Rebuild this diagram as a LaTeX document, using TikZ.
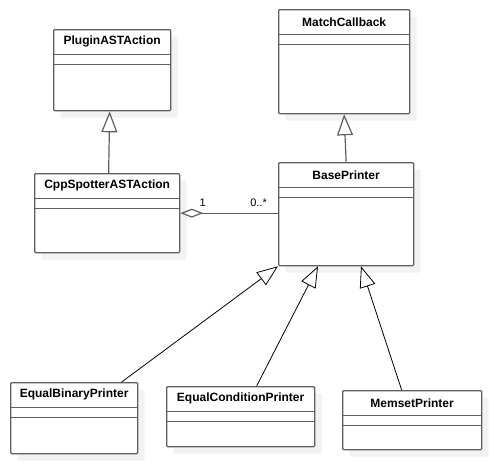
\documentclass[tikz,border=0pt]{standalone}
\usepackage{fontspec}
\setmainfont{Liberation Sans}
\usetikzlibrary{arrows.meta, calc, shadows}

\definecolor{classline}{RGB}{95,95,95}
\definecolor{classshadow}{RGB}{242,242,242}

% \umlclass{name}{x}{y}{width}{height}{title}
\newcommand{\umlclass}[6]{%
  \node[classbox, minimum width=#4, minimum height=#5] (#1) at (#2,#3) {};
  \node[classtitle] (#1title) at ($(#1.north)+(0,12.75)$) {#6};
  \draw[classline, line width=1.2pt] ($(#1.north west)+(0,25.5)$) -- ($(#1.north east)+(0,25.5)$);
  \draw[classline, line width=1.2pt] ($(#1.north west)+(0,35.5)$) -- ($(#1.north east)+(0,35.5)$);
}

\begin{document}
\begin{tikzpicture}[
    x=1pt, y=-1pt,
    classbox/.style={draw=classline, line width=1.3pt, rounded corners=1pt, fill=white, anchor=north west, inner sep=0pt,
      drop shadow={shadow xshift=7pt, shadow yshift=-7pt, fill=classshadow, opacity=1}},
    classtitle/.style={font=\bfseries\fontsize{12}{14}\selectfont, inner sep=0pt},
    inherit/.style={-{Triangle[open, length=21pt, width=16pt]}, line width=0.8pt},
    mult/.style={font=\fontsize{11}{13}\selectfont, inner sep=0pt}
  ]
  \fill[white] (0,0) rectangle (491,463);
  \useasboundingbox (0,0) rectangle (491,463);

  \umlclass{plugin}{53}{29}{117}{81}{PluginASTAction}
  \umlclass{cpp}{34}{173}{145}{79}{CppSpotterASTAction}
  \umlclass{match}{278}{9}{131}{104}{MatchCallback}
  \umlclass{base}{278}{162}{135}{103}{BasePrinter}
  \umlclass{binary}{10}{382}{127}{71}{EqualBinaryPrinter}
  \umlclass{cond}{166}{386}{148}{60}{EqualConditionPrinter}
  \umlclass{memset}{342}{390}{139}{59}{MemsetPrinter}

  % generalisation
  \draw[inherit, classline, line width=1.2pt] ([xshift=1.5pt]cpp.north) -- ([xshift=-2.5pt]plugin.south);
  \draw[inherit, classline, line width=1.2pt] (base.north) -- (match.south);
  \draw[inherit] ([xshift=47.5pt]binary.north) -- (base.south west);
  \draw[inherit] ([xshift=16pt]cond.north) -- ([xshift=40pt]base.south west);
  \draw[inherit] ([xshift=-10.5pt]memset.north) -- ([xshift=83pt]base.south west);

  % aggregation
  \draw[{Diamond[open, length=23pt, width=9pt]}-, classline, line width=1.2pt] (cpp.east) -- (cpp.east -| base.west);
  \node[mult, anchor=south west] (one) at ($(cpp.east)+(19,-6)$) {1};
  \node[mult, anchor=south east] (many) at ($(cpp.east -| base.west)+(-11,-6)$) {0..*};
\end{tikzpicture}
\end{document}
